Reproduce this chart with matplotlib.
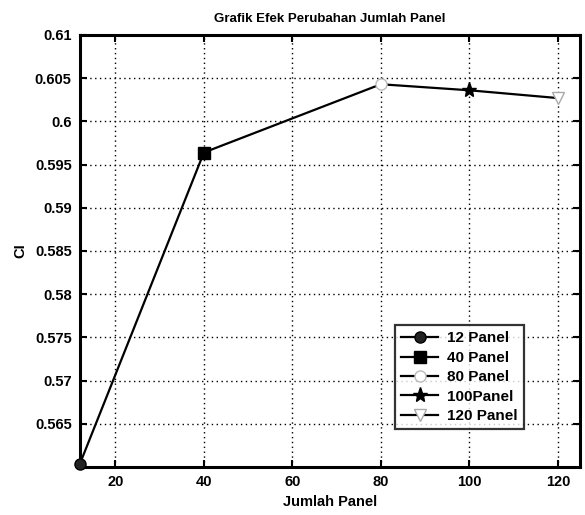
import matplotlib
matplotlib.use("Agg")
import matplotlib.pyplot as plt

panels = [12, 40, 80, 100, 120]
ci = [0.5604, 0.5964, 0.6043, 0.6036, 0.6027]
labels = ["12 Panel", "40 Panel", "80 Panel", "100Panel", "120 Panel"]
markers = ["o", "s", "o", "*", "v"]
faces = ["#222222", "black", "white", "black", "white"]
edges = ["black", "black", "#bbbbbb", "black", "#aaaaaa"]
xticks = [20, 40, 60, 80, 100, 120]
yticks = [0.565, 0.57, 0.575, 0.58, 0.585, 0.59, 0.595, 0.6, 0.605, 0.61]
ytick_labels = ["0.565", "0.57", "0.575", "0.58", "0.585", "0.59", "0.595", "0.6", "0.605", "0.61"]

plt.rcParams['font.family'] = ['Liberation Sans', 'DejaVu Sans']
fig = plt.figure(figsize=(5.85, 5.15), dpi=100)
ax = fig.add_axes([80/585, 48/515, 500/585, 432/515])

ax.plot(panels, ci, color="black", lw=1.6, zorder=2)
for x, y, lab, m, fc, ec in zip(panels, ci, labels, markers, faces, edges):
    ax.plot([x], [y], color="black", lw=1.6, marker=m, markersize=8 if m != "*" else 11,
            markerfacecolor=fc, markeredgecolor=ec, label=lab, zorder=3, clip_on=False)

ax.set_xlim(12, 125)
ax.set_ylim(0.56, 0.61)
ax.set_xticks(xticks)
ax.set_xticklabels([str(t) for t in xticks], fontsize=10.5, fontweight="bold")
ax.set_yticks(yticks)
ax.set_yticklabels(ytick_labels, fontsize=10.5, fontweight="bold")
ax.grid(True, color="black", linestyle=(0, (1, 2.5)), linewidth=1.0)
ax.tick_params(direction="in", length=5, width=1.5, top=True, right=True, pad=6)
for s in ax.spines.values():
    s.set_linewidth(2.2)

ax.set_title("Grafik Efek Perubahan Jumlah Panel", fontsize=9.5, fontweight="bold", pad=9)
ax.set_xlabel("Jumlah Panel", fontsize=10.5, fontweight="bold", labelpad=4)
ax.set_ylabel("CI", fontsize=10.5, fontweight="bold", labelpad=5)

leg = ax.legend(loc="lower right", bbox_to_anchor=(444/500, (467-429)/432), fontsize=11,
                frameon=True, fancybox=False, edgecolor="black", handlelength=2.4,
                borderpad=0.4, labelspacing=0.35, handletextpad=0.6, borderaxespad=0)
leg.get_frame().set_linewidth(1.6)
for t in leg.get_texts():
    t.set_fontweight("bold")

fig.savefig("out.png", dpi=100)
